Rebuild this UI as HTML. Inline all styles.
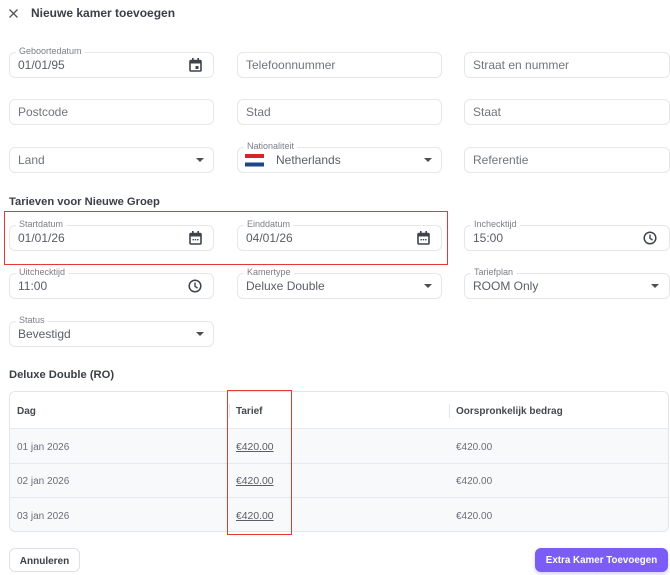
<!DOCTYPE html>
<html><head><meta charset="utf-8"><style>
*{box-sizing:border-box;margin:0;padding:0}
body{width:670px;height:575px;background:#fff;font-family:"Liberation Sans",sans-serif;position:relative;overflow:hidden;color:#555}
.a{position:absolute}
.f{position:absolute;height:26px;border:1px solid #e5e7eb;border-radius:6px;background:#fff}
.f .v{position:absolute;left:8px;top:0;line-height:24px;font-size:12px;color:#5a5e66;white-space:nowrap}
.f .p{color:#70747c}
.f .l{position:absolute;left:6px;top:-7px;font-size:9px;line-height:11px;background:#fff;padding:0 3px;color:#7a7e86;white-space:nowrap}
.dd{position:absolute;right:9px;top:10px;width:0;height:0;border-left:4px solid transparent;border-right:4px solid transparent;border-top:4px solid #4a4e56}
.ic{position:absolute;right:11px;top:5px}
.h{position:absolute;font-weight:bold;color:#3a3e46;white-space:nowrap}
.tb{position:absolute;left:9px;top:391px;width:660px;height:141px;border:1px solid #e3e5ea;border-radius:6px;overflow:hidden;background:#f8f9fb}
.tr{position:absolute;left:0;width:100%;border-top:1px solid #e6e8ec}
.td{position:absolute;font-size:10px;color:#6a6e76;white-space:nowrap}
.th{position:absolute;font-size:10px;font-weight:bold;color:#444851;white-space:nowrap}
.u{text-decoration:underline;color:#5a5e66;font-size:10.4px}
</style></head><body>

<svg class="a" style="left:9px;top:9px" width="9" height="9" viewBox="0 0 9 9"><path d="M0.5 0.5L8.5 8.5M8.5 0.5L0.5 8.5" stroke="#555" stroke-width="1.3"/></svg>
<div class="h" style="left:31px;top:6px;font-size:12px;line-height:14px">Nieuwe kamer toevoegen</div>

<!-- row 1 -->
<div class="f" style="left:9px;top:52px;width:205px"><span class="l">Geboortedatum</span><span class="v">01/01/95</span>
<svg class="ic" width="13" height="14" viewBox="0 0 13 14" style="right:11px;top:5px"><rect x="1" y="2.5" width="11" height="10.5" rx="1" fill="none" stroke="#3e434b" stroke-width="1.6"/><rect x="1" y="2.5" width="11" height="3" fill="#3e434b"/><rect x="3" y="0" width="1.6" height="3" fill="#3e434b"/><rect x="8.4" y="0" width="1.6" height="3" fill="#3e434b"/><rect x="6.5" y="8" width="3" height="3" fill="#3e434b"/></svg></div>
<div class="f" style="left:237px;top:52px;width:205px"><span class="v p">Telefoonnummer</span></div>
<div class="f" style="left:464px;top:52px;width:206px"><span class="v p">Straat en nummer</span></div>

<!-- row 2 -->
<div class="f" style="left:9px;top:99px;width:205px"><span class="v p">Postcode</span></div>
<div class="f" style="left:237px;top:99px;width:205px"><span class="v p">Stad</span></div>
<div class="f" style="left:464px;top:99px;width:206px"><span class="v p">Staat</span></div>

<!-- row 3 -->
<div class="f" style="left:9px;top:147px;width:205px"><span class="v p">Land</span><div class="dd"></div></div>
<div class="f" style="left:237px;top:147px;width:205px"><span class="l">Nationaliteit</span>
<svg class="a" style="left:7px;top:6px" width="19" height="13" viewBox="0 0 19 13"><rect x="0" y="0" width="19" height="4" fill="#d8232a"/><rect x="0" y="4" width="19" height="4" fill="#fff"/><rect x="0" y="8.5" width="19" height="4" fill="#1e4785"/></svg>
<span class="v" style="left:38px">Netherlands</span><div class="dd"></div></div>
<div class="f" style="left:464px;top:147px;width:206px"><span class="v p">Referentie</span></div>

<div class="h" style="left:9px;top:195px;font-size:11.2px;line-height:14px">Tarieven voor Nieuwe Groep</div>

<!-- row 4 -->
<div class="f" style="left:9px;top:225px;width:205px"><span class="l">Startdatum</span><span class="v">01/01/26</span>
<svg class="ic" width="13" height="14" viewBox="0 0 13 14"><rect x="1" y="2.5" width="11" height="10.5" rx="1" fill="none" stroke="#3e434b" stroke-width="1.6"/><rect x="1" y="2.5" width="11" height="3" fill="#3e434b"/><rect x="3" y="0" width="1.6" height="3" fill="#3e434b"/><rect x="8.4" y="0" width="1.6" height="3" fill="#3e434b"/><rect x="3.5" y="8" width="1.4" height="1.4" fill="#3e434b"/><rect x="5.8" y="8" width="1.4" height="1.4" fill="#3e434b"/><rect x="8.1" y="8" width="1.4" height="1.4" fill="#3e434b"/></svg></div>
<div class="f" style="left:237px;top:225px;width:205px"><span class="l">Einddatum</span><span class="v">04/01/26</span>
<svg class="ic" width="13" height="14" viewBox="0 0 13 14"><rect x="1" y="2.5" width="11" height="10.5" rx="1" fill="none" stroke="#3e434b" stroke-width="1.6"/><rect x="1" y="2.5" width="11" height="3" fill="#3e434b"/><rect x="3" y="0" width="1.6" height="3" fill="#3e434b"/><rect x="8.4" y="0" width="1.6" height="3" fill="#3e434b"/><rect x="3.5" y="8" width="1.4" height="1.4" fill="#3e434b"/><rect x="5.8" y="8" width="1.4" height="1.4" fill="#3e434b"/><rect x="8.1" y="8" width="1.4" height="1.4" fill="#3e434b"/></svg></div>
<div class="f" style="left:464px;top:225px;width:206px"><span class="l">Inchecktijd</span><span class="v">15:00</span>
<svg class="ic" width="14" height="14" viewBox="0 0 14 14" style="right:12px"><circle cx="7" cy="7" r="5.8" fill="none" stroke="#3e434b" stroke-width="1.5"/><path d="M7 3.5V7.3L9.6 9.2" fill="none" stroke="#3e434b" stroke-width="1.4"/></svg></div>

<div class="a" style="left:4px;top:211px;width:444px;height:54px;border:1.5px solid #e53935"></div>

<!-- row 5 -->
<div class="f" style="left:9px;top:273px;width:205px"><span class="l">Uitchecktijd</span><span class="v">11:00</span>
<svg class="ic" width="14" height="14" viewBox="0 0 14 14" style="right:11px"><circle cx="7" cy="7" r="5.8" fill="none" stroke="#3e434b" stroke-width="1.5"/><path d="M7 3.5V7.3L9.6 9.2" fill="none" stroke="#3e434b" stroke-width="1.4"/></svg></div>
<div class="f" style="left:237px;top:273px;width:205px"><span class="l">Kamertype</span><span class="v">Deluxe Double</span><div class="dd"></div></div>
<div class="f" style="left:464px;top:273px;width:206px"><span class="l">Tariefplan</span><span class="v">ROOM Only</span><div class="dd" style="right:10px"></div></div>

<!-- row 6 -->
<div class="f" style="left:9px;top:321px;width:205px"><span class="l">Status</span><span class="v">Bevestigd</span><div class="dd"></div></div>

<div class="h" style="left:9px;top:368px;font-size:11.2px;line-height:14px">Deluxe Double (RO)</div>

<!-- table -->
<div class="tb">
  <div class="a" style="left:0;top:0;width:100%;height:36px;background:#fff"></div>
  <div class="a" style="left:219px;top:12px;width:1px;height:14px;background:#e3e5ea"></div>
  <div class="a" style="left:439px;top:12px;width:1px;height:14px;background:#e3e5ea"></div>
  <div class="th" style="left:7px;top:14px">Dag</div>
  <div class="th" style="left:226px;top:14px">Tarief</div>
  <div class="th" style="left:446px;top:14px">Oorspronkelijk bedrag</div>
  <div class="tr" style="top:36px"></div>
  <div class="tr" style="top:71px"></div>
  <div class="tr" style="top:105px"></div>
  <div class="td" style="left:7px;top:50px">01 jan 2026</div>
  <div class="td u" style="left:226px;top:50px">€420.00</div>
  <div class="td" style="left:446px;top:50px">€420.00</div>
  <div class="td" style="left:7px;top:84px">02 jan 2026</div>
  <div class="td u" style="left:226px;top:84px">€420.00</div>
  <div class="td" style="left:446px;top:84px">€420.00</div>
  <div class="td" style="left:7px;top:119px">03 jan 2026</div>
  <div class="td u" style="left:226px;top:119px">€420.00</div>
  <div class="td" style="left:446px;top:119px">€420.00</div>
</div>
<div class="a" style="left:227px;top:390px;width:65px;height:145px;border:1.5px solid #e53935"></div>

<!-- buttons -->
<div class="a" style="left:9px;top:548px;width:71px;height:24px;border:1px solid #dfe1e6;border-radius:6px;font-size:10px;font-weight:bold;color:#3a3e46;text-align:center;line-height:23px;padding-top:1px">Annuleren</div>
<div class="a" style="left:535px;top:548px;width:133px;height:24px;border-radius:6px;background:#7b5cf6;font-size:9.8px;font-weight:bold;color:#fff;text-align:center;line-height:24px;padding-top:1px;box-shadow:0 2px 4px rgba(123,92,246,.3)">Extra Kamer Toevoegen</div>

</body></html>
